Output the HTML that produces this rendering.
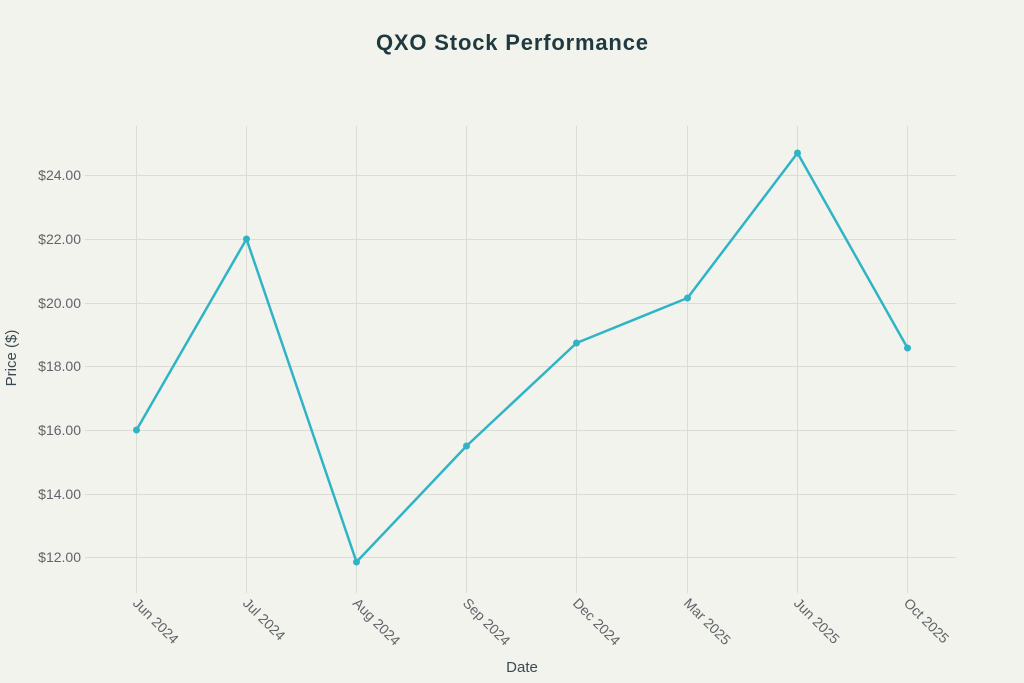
<!DOCTYPE html>
<html><head><meta charset="utf-8"><style>
html,body{margin:0;padding:0;background:#f3f3ee;}
svg{display:block;font-family:"Liberation Sans",sans-serif;}
</style></head><body>
<svg width="1024" height="683" viewBox="0 0 1024 683">
<rect width="1024" height="683" fill="#f3f3ee"/>
<text x="512" y="50" text-anchor="middle" font-size="22" font-weight="bold" fill="#1f3a3f" textLength="272">QXO Stock Performance</text>
<g stroke="#dcdcd6" stroke-width="1">
<line x1="85" x2="956" y1="175.5" y2="175.5"/>
<line x1="85" x2="956" y1="239.5" y2="239.5"/>
<line x1="85" x2="956" y1="303.5" y2="303.5"/>
<line x1="85" x2="956" y1="366.5" y2="366.5"/>
<line x1="85" x2="956" y1="430.5" y2="430.5"/>
<line x1="85" x2="956" y1="494.5" y2="494.5"/>
<line x1="85" x2="956" y1="557.5" y2="557.5"/>
<line x1="136.5" x2="136.5" y1="126" y2="593"/>
<line x1="246.5" x2="246.5" y1="126" y2="593"/>
<line x1="356.5" x2="356.5" y1="126" y2="593"/>
<line x1="466.5" x2="466.5" y1="126" y2="593"/>
<line x1="576.5" x2="576.5" y1="126" y2="593"/>
<line x1="687.5" x2="687.5" y1="126" y2="593"/>
<line x1="797.5" x2="797.5" y1="126" y2="593"/>
<line x1="907.5" x2="907.5" y1="126" y2="593"/>
</g>
<g font-size="14" fill="#5f6468" text-anchor="end">
<text x="81" y="180">$24.00</text>
<text x="81" y="244">$22.00</text>
<text x="81" y="308">$20.00</text>
<text x="81" y="371">$18.00</text>
<text x="81" y="435">$16.00</text>
<text x="81" y="499">$14.00</text>
<text x="81" y="562">$12.00</text>
</g>
<g font-size="14" fill="#5f6468">
<text transform="translate(132,604) rotate(45)">Jun 2024</text>
<text transform="translate(242,604) rotate(45)">Jul 2024</text>
<text transform="translate(352,604) rotate(45)">Aug 2024</text>
<text transform="translate(462,604) rotate(45)">Sep 2024</text>
<text transform="translate(572,604) rotate(45)">Dec 2024</text>
<text transform="translate(683,604) rotate(45)">Mar 2025</text>
<text transform="translate(793,604) rotate(45)">Jun 2025</text>
<text transform="translate(903,604) rotate(45)">Oct 2025</text>
</g>
<text x="522" y="672" text-anchor="middle" font-size="15" fill="#3b4a50">Date</text>
<text transform="translate(16,358) rotate(-90)" text-anchor="middle" font-size="15" fill="#3b4a50">Price ($)</text>
<polyline fill="none" stroke="#2fb4c6" stroke-width="2.5" stroke-linejoin="round" points="136.5,430 246.5,239 356.5,562 466.5,446 576.5,343 687.5,298 797.5,153 907.5,348"/>
<g fill="#2fb4c6">
<circle cx="136.5" cy="430" r="3.5"/><circle cx="246.5" cy="239" r="3.5"/><circle cx="356.5" cy="562" r="3.5"/><circle cx="466.5" cy="446" r="3.5"/><circle cx="576.5" cy="343" r="3.5"/><circle cx="687.5" cy="298" r="3.5"/><circle cx="797.5" cy="153" r="3.5"/><circle cx="907.5" cy="348" r="3.5"/>
</g>
</svg>
</body></html>
